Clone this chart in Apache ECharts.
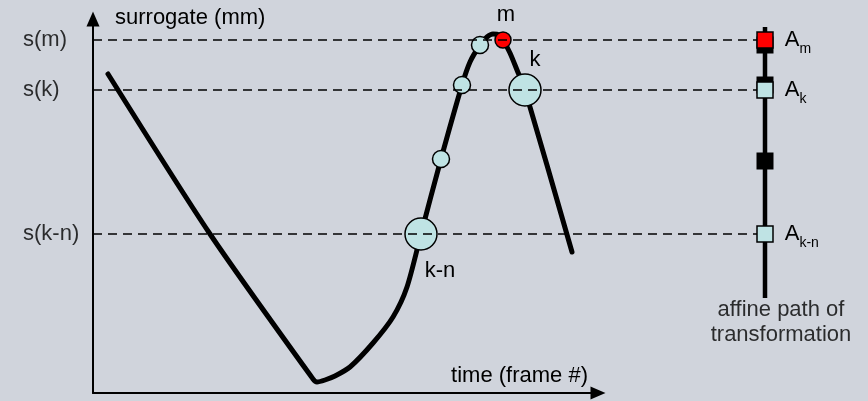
<!DOCTYPE html>
<html>
<head>
<meta charset="utf-8">
<script src="https://cdn.jsdelivr.net/npm/echarts@6/dist/echarts.min.js"></script>
<style>
html, body { margin: 0; padding: 0; background: #d0d4dc; }
#chart { width: 868px; height: 401px; }
</style>
</head>
<body>
<div id="chart"></div>
<script>
const bgColor = '#d0d4dc';
const fillColor = '#bfe3e4';
const font = '"Liberation Sans", Arial, sans-serif';

// surrogate signal over time (frames)
const curveT = [3.75, 29.25, 55, 56, 58, 60.5, 64.25, 70, 75, 78.5, 82, 87, 92.25,
  94.25, 96.75, 98.5, 100, 101.5, 102.5, 104.25, 106, 108, 119.75];
const curveS = [79.75, 39.75, 3.5, 2.75, 3.25, 4.25, 6.5, 12.5, 19, 26.5, 39.75, 58.5, 77,
  82.75, 87, 89, 89.75, 89.5, 88.25, 85, 80.75, 75.75, 35.25];

// sampled frames drawn as circles
const sampleT = [82, 87, 92.25, 96.75, 102.5, 108];
const sampleS = [39.75, 58.5, 77, 87, 88.25, 75.75];
const sampleNames = ['k-n', '', '', '', 'm', 'k'];

// reference levels
const levels = [88.25, 75.75, 39.75];
const levelNames = ['s(m)', 's(k)', 's(k-n)'];
const levelSubs = ['m', 'k', 'k-n'];

// affine path of transformation
const pathT = 168;
const pathEnds = [91.5, 23.75];
const pathNodes = [87, 77, 58];

const txt = { color: '#000', fontFamily: font, fontSize: 22 };

const sampleLabel = {
  'k-n': { position: 'bottom', offset: [19, 4] },
  'm': { position: 'top', offset: [3, 0] },
  'k': { position: 'top', offset: [10, 3] }
};

const axisStyle = {
  axisLine: {
    show: true,
    symbol: ['none', 'triangle'],
    symbolSize: [13, 15],
    lineStyle: { color: '#000', width: 2 }
  },
  axisTick: { show: false },
  axisLabel: { show: false },
  splitLine: { show: false }
};

const option = {
  backgroundColor: bgColor,
  animation: false,
  grid: [
    { left: 93, right: 270, top: 19, bottom: 8 },
    { left: 13, right: 55, top: 13, bottom: 8 }
  ],
  xAxis: [
    Object.assign({
      gridIndex: 0, type: 'value', min: 0, max: 1,
      name: 'time (frame #)', nameLocation: 'end', nameGap: -10,
      nameTextStyle: Object.assign({ align: 'right', verticalAlign: 'bottom', padding: [0, 0, 6, 0] }, txt)
    }, axisStyle),
    { gridIndex: 1, type: 'value', min: -20, max: 180, show: false }
  ],
  yAxis: [
    Object.assign({
      gridIndex: 0, type: 'value', min: 0, max: 1,
      name: 'surrogate (mm)', nameLocation: 'end', nameGap: 1,
      nameTextStyle: Object.assign({ align: 'left', verticalAlign: 'middle', padding: [0, 0, 0, 22] }, txt)
    }, axisStyle),
    { gridIndex: 1, type: 'value', min: 0, max: 95, show: false }
  ],
  series: [
    {
      type: 'line',
      xAxisIndex: 1, yAxisIndex: 1,
      data: curveT.map((t, i) => [t, curveS[i]]),
      smooth: 0.25,
      showSymbol: false,
      lineStyle: { color: '#000', width: 5, cap: 'round', join: 'round' },
      z: 2
    },
    {
      type: 'scatter',
      xAxisIndex: 1, yAxisIndex: 1,
      data: sampleT.map((t, i) => {
        const name = sampleNames[i];
        const big = name === 'k' || name === 'k-n';
        return {
          name: name,
          value: [t, sampleS[i]],
          symbolSize: big ? 32 : (name === 'm' ? 16 : 17),
          itemStyle: { color: name === 'm' ? '#ff0000' : fillColor },
          label: Object.assign({ show: !!name, distance: 5 }, sampleLabel[name] || {})
        };
      }),
      itemStyle: { borderColor: '#000', borderWidth: 1.5, opacity: 1 },
      label: Object.assign({ formatter: '{b}' }, txt),
      z: 3
    },
    ...levels.map(lv => ({
      type: 'line',
      xAxisIndex: 1, yAxisIndex: 1,
      data: [[0, lv], [pathT, lv]],
      showSymbol: false,
      lineStyle: { color: '#000', width: 1.6, type: [9, 6] },
      z: 4
    })),
    {
      type: 'scatter',
      xAxisIndex: 1, yAxisIndex: 1,
      data: levels.map((lv, i) => ({ name: levelNames[i], value: [-17.5, lv] })),
      symbolSize: 0,
      label: Object.assign({ show: true, position: 'right', distance: 0, formatter: '{b}' }, txt),
      z: 4
    },
    {
      type: 'line',
      xAxisIndex: 1, yAxisIndex: 1,
      data: pathEnds.map(s => [pathT, s]),
      showSymbol: false,
      lineStyle: { color: '#000', width: 4.5 },
      z: 5
    },
    {
      type: 'scatter',
      xAxisIndex: 1, yAxisIndex: 1,
      data: pathNodes.map(s => [pathT, s]),
      symbol: 'rect',
      symbolSize: 17,
      itemStyle: { color: '#000', opacity: 1 },
      z: 6
    },
    {
      type: 'scatter',
      xAxisIndex: 1, yAxisIndex: 1,
      data: levels.map((lv, i) => ({
        name: levelSubs[i],
        value: [pathT, lv],
        itemStyle: { color: i === 0 ? '#ff0000' : fillColor }
      })),
      symbol: 'rect',
      symbolSize: 16,
      itemStyle: { borderColor: '#000', borderWidth: 1.5, opacity: 1 },
      label: {
        show: true,
        position: 'right',
        distance: 11,
        formatter: p => '{a|A}{s|' + p.name + '}',
        rich: {
          a: { fontSize: 22, fontFamily: font, color: '#000', lineHeight: 22 },
          s: { fontSize: 14, fontFamily: font, color: '#000', lineHeight: 14, padding: [18, 0, 0, 0] }
        }
      },
      z: 7
    },
    {
      type: 'scatter',
      xAxisIndex: 1, yAxisIndex: 1,
      data: [{ name: 'affine path of\ntransformation', value: [172, 17.75] }],
      symbolSize: 0,
      label: Object.assign({ show: true, position: 'inside', formatter: '{b}', lineHeight: 25, align: 'center' }, txt),
      z: 7
    }
  ]
};

const chart = echarts.init(document.getElementById('chart'));
chart.setOption(option);
</script>
</body>
</html>
